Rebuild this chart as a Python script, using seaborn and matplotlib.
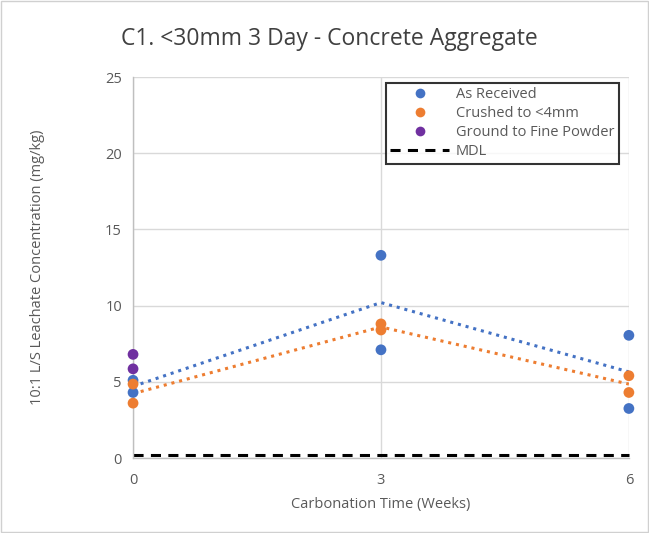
import matplotlib
matplotlib.use("Agg")
import matplotlib.pyplot as plt
import seaborn as sns
import pandas as pd
from matplotlib.lines import Line2D
from matplotlib.patches import Rectangle

# Leachate results, two replicates per treatment per carbonation time
weeks_received = [0, 0, 3, 3, 6, 6]
as_received = [5.1, 4.3, 13.3, 7.1, 8.05, 3.25]
weeks_crushed = [0, 0, 3, 3, 6, 6]
crushed = [4.85, 3.6, 8.8, 8.4, 5.4, 4.3]
weeks_ground = [0, 0]
ground = [6.8, 5.85]
mdl = 0.2

series_names = ["As Received", "Crushed to <4mm", "Ground to Fine Powder"]
palette = {"As Received": "#4472C4", "Crushed to <4mm": "#ED7D31",
           "Ground to Fine Powder": "#7030A0"}
x_ticks = [0, 3, 6]
y_ticks = [0, 5, 10, 15, 20, 25]

df = pd.DataFrame({
    "weeks": weeks_received + weeks_crushed + weeks_ground,
    "conc": as_received + crushed + ground,
    "sample": [series_names[0]] * len(as_received)
              + [series_names[1]] * len(crushed)
              + [series_names[2]] * len(ground),
})

sns.set_theme(style="white")
plt.rcParams["font.family"] = ["Open Sans", "DejaVu Sans"]
text_c = "#595959"
grid_c = "#D9D9D9"
mdl_dash = (0, (3.3, 2.4))

fig = plt.figure(figsize=(6.49, 5.33), dpi=100)
ax = fig.add_axes([0.205, 0.1407, 0.764, 0.7148])

# mean trend lines for the two treatments sampled at every time
trend = df[df["sample"] != series_names[2]]
sns.lineplot(data=trend, x="weeks", y="conc", hue="sample", palette=palette,
             estimator="mean", errorbar=None, ax=ax, legend=False,
             linestyle=(0, (1, 1.6)), linewidth=2.2, zorder=2)

sns.scatterplot(data=df, x="weeks", y="conc", hue="sample", palette=palette,
                s=60, edgecolor="none", ax=ax, legend=False, zorder=3,
                clip_on=False)

ax.plot([0, 6], [mdl, mdl], color="black", linestyle=mdl_dash,
        linewidth=2.2, zorder=2, clip_on=False)

ax.set_xlim(0, 6)
ax.set_ylim(0, 25)
ax.set_xticks(x_ticks)
ax.set_yticks(y_ticks)
ax.grid(True, color=grid_c, linewidth=1)
ax.set_axisbelow(True)
for side in ["top", "right"]:
    ax.spines[side].set_visible(False)
for side in ["left", "bottom"]:
    ax.spines[side].set_color("#BFBFBF")
    ax.spines[side].set_linewidth(1)
ax.tick_params(axis="y", colors=text_c, labelsize=10.5, length=0, pad=8)
ax.tick_params(axis="x", colors=text_c, labelsize=10.5, length=0, pad=11)

ax.set_xlabel("Carbonation Time (Weeks)", color=text_c, fontsize=10.5, labelpad=6)
ax.set_ylabel("10:1 L/S Leachate Concentration (mg/kg)", color=text_c,
              fontsize=10.5, labelpad=43)
fig.text(0.508, 0.927, "C1. <30mm 3 Day - Concrete Aggregate", ha="center",
         va="center", fontsize=16.5, color="#404040")

handles = [Line2D([], [], marker="o", linestyle="none", markersize=7,
                  markerfacecolor=palette[n], markeredgecolor="none")
           for n in series_names]
handles.append(Line2D([], [], color="black", linestyle=mdl_dash, linewidth=2.2))
leg = ax.legend(handles, series_names + ["MDL"], loc="upper right",
                bbox_to_anchor=(0.98, 0.985), frameon=True, fancybox=False,
                fontsize=10.5, labelcolor=text_c, borderpad=0.3,
                labelspacing=0.28, handlelength=4.0, handletextpad=0.5,
                borderaxespad=0)
leg.get_frame().set_edgecolor("black")
leg.get_frame().set_linewidth(1.5)

fig.patches.append(Rectangle((0.002, 0.002), 0.996, 0.996, transform=fig.transFigure,
                             fill=False, edgecolor="#D0D0D0", linewidth=1))

fig.savefig("out.png", dpi=100)
